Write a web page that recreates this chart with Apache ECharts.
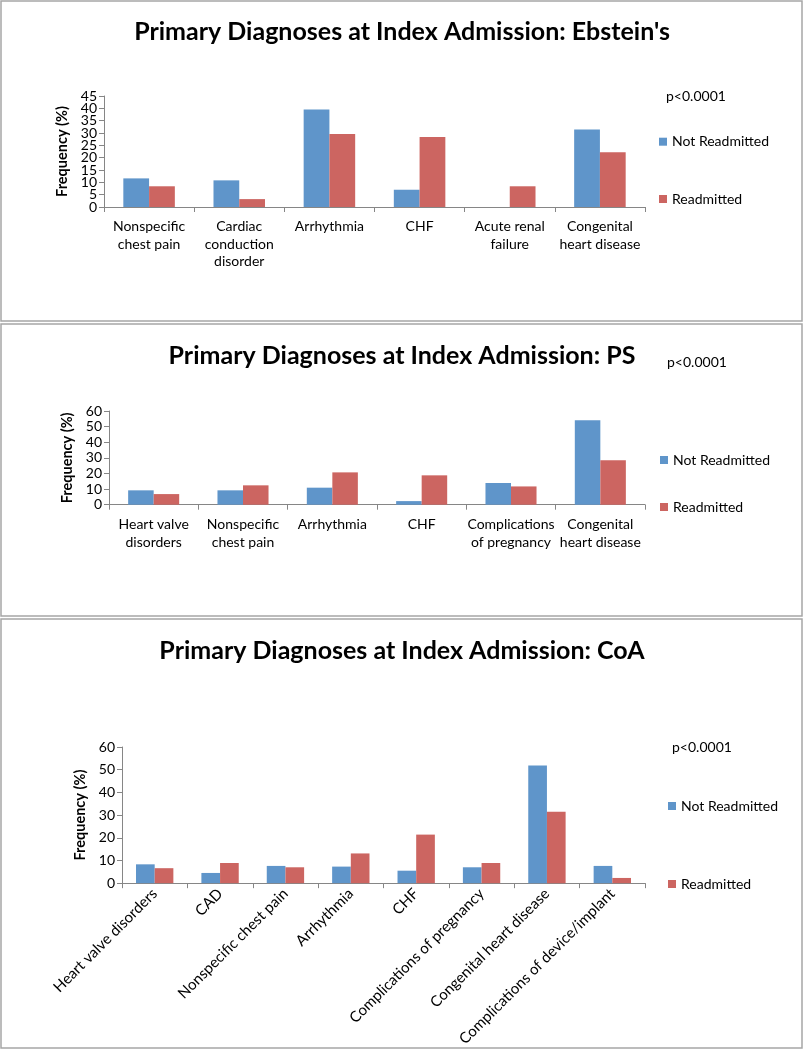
<!DOCTYPE html>
<html><head><meta charset="utf-8">
<script src="https://cdn.jsdelivr.net/npm/echarts@6/dist/echarts.min.js"></script>
<style>html,body{margin:0;padding:0;background:#fff}#c{width:804px;height:1050px}</style>
</head><body><div id="c"></div>
<script>
// ---- data ----
const seriesNames = ['Not Readmitted', 'Readmitted'];
const pValueLabel = 'p<0.0001';
const axisTitle = 'Frequency (%)';

const ebsteinTitle = "Primary Diagnoses at Index Admission: Ebstein's";
const ebsteinCategories = ['Nonspecific\nchest pain', 'Cardiac\nconduction\ndisorder', 'Arrhythmia', 'CHF', 'Acute renal\nfailure', 'Congenital\nheart disease'];
const ebsteinNotReadmitted = [11.6, 10.8, 39.5, 7.0, 0, 31.4];
const ebsteinReadmitted = [8.4, 3.2, 29.6, 28.4, 8.4, 22.2];

const psTitle = 'Primary Diagnoses at Index Admission: PS';
const psCategories = ['Heart valve\ndisorders', 'Nonspecific\nchest pain', 'Arrhythmia', 'CHF', 'Complications\nof pregnancy', 'Congenital\nheart disease'];
const psNotReadmitted = [9.2, 9.2, 10.9, 2.3, 13.9, 54.0];
const psReadmitted = [6.8, 12.4, 20.7, 18.8, 11.7, 28.4];

const coaTitle = 'Primary Diagnoses at Index Admission: CoA';
const coaCategories = ['Heart valve disorders', 'CAD', 'Nonspecific chest pain', 'Arrhythmia', 'CHF', 'Complications of pregnancy', 'Congenital heart disease', 'Complications of device/implant'];
const coaNotReadmitted = [8.3, 4.5, 7.6, 7.3, 5.5, 7.0, 51.8, 7.6];
const coaReadmitted = [6.6, 8.9, 7.0, 13.1, 21.4, 8.9, 31.5, 2.3];

// y-axis scales (max, interval)
const ebsteinAxis = [45, 5];
const psAxis = [60, 10];
const coaAxis = [60, 10];

// ---- layout / style ----
const FONT = 'Lato';
const BLUE = '#5F95CA';
const RED = '#CC6561';
const AXIS_COLOR = '#868686';

const panels = [
  { title: ebsteinTitle, cats: ebsteinCategories, a: ebsteinNotReadmitted, b: ebsteinReadmitted, axis: ebsteinAxis,
    grid: { left: 104, top: 96, width: 541, height: 111 }, titleTop: 19, pLeft: 666, pTop: 89,
    legLeft: 659, legTop: 134.7, legGap: 43.3, nameGap: 33, rotate: 0, labelMargin: 11,
    box: [1, 1, 801, 320] },
  { title: psTitle, cats: psCategories, a: psNotReadmitted, b: psReadmitted, axis: psAxis,
    grid: { left: 109, top: 411, width: 536, height: 93.7 }, titleTop: 343.5, pLeft: 667, pTop: 355,
    legLeft: 660, legTop: 453, legGap: 33, nameGap: 32, rotate: 0, labelMargin: 11.5,
    box: [1, 324, 801, 292] },
  { title: coaTitle, cats: coaCategories, a: coaNotReadmitted, b: coaReadmitted, axis: coaAxis,
    grid: { left: 122, top: 747, width: 523, height: 137.3 }, titleTop: 638.5, pLeft: 672, pTop: 740,
    legLeft: 668, legTop: 799, legGap: 64, nameGap: 32, rotate: 45, labelMargin: 8,
    box: [1, 619, 801, 429] }
];

const option = {
  animation: false,
  backgroundColor: '#fff',
  textStyle: { fontFamily: FONT },
  title: [],
  legend: [],
  grid: [],
  xAxis: [],
  yAxis: [],
  series: [],
  graphic: panels.map(p => ({
    type: 'rect', z: -10, silent: true,
    shape: { x: p.box[0], y: p.box[1], width: p.box[2], height: p.box[3] },
    style: { fill: 'none', stroke: '#A6A6A6', lineWidth: 1.5 }
  }))
};

const yLabelStyle = { fontFamily: FONT, fontSize: 14, color: '#000', margin: 7, hideOverlap: false };

panels.forEach((p, i) => {
  const yMin = 0, yMax = p.axis[0], yInt = p.axis[1];
  option.title.push({
    text: p.title, left: 'center', top: p.titleTop, padding: 0,
    textStyle: { fontFamily: FONT, fontSize: 25, fontWeight: 'bold', color: '#000' }
  });
  option.title.push({
    text: pValueLabel, left: p.pLeft, top: p.pTop, padding: 0,
    textStyle: { fontFamily: FONT, fontSize: 14, fontWeight: 'normal', color: '#000' }
  });
  option.legend.push({
    data: seriesNames, orient: 'vertical', left: p.legLeft, top: p.legTop, padding: 0,
    itemGap: p.legGap, itemWidth: 8, itemHeight: 8, icon: 'rect', selectedMode: false,
    textStyle: { fontFamily: FONT, fontSize: 14, color: '#000' }
  });
  option.grid.push(Object.assign({ containLabel: false }, p.grid));
  option.xAxis.push({
    type: 'category', gridIndex: i, data: p.cats,
    axisLine: { lineStyle: { color: AXIS_COLOR, width: 1 } },
    axisTick: { show: true, length: 5, lineStyle: { color: AXIS_COLOR } },
    axisLabel: {
      interval: 0, rotate: p.rotate, margin: p.labelMargin, hideOverlap: false,
      fontFamily: FONT, fontSize: p.rotate ? 15 : 14, color: '#000', lineHeight: 17.5
    },
    splitLine: { show: false }
  });
  // main value axis: draws line, ticks, name and the min/max labels
  const mainAxisIndex = option.yAxis.length;
  option.yAxis.push({
    type: 'value', gridIndex: i, position: 'left', offset: 0,
    min: yMin, max: yMax, interval: yInt,
    name: axisTitle, nameLocation: 'middle', nameGap: p.nameGap, nameRotate: 90,
    nameTextStyle: { fontFamily: FONT, fontSize: 14.5, fontWeight: 'bold', color: '#000' },
    axisLine: { show: true, lineStyle: { color: AXIS_COLOR, width: 1 } },
    axisTick: { show: true, length: 5, lineStyle: { color: AXIS_COLOR } },
    axisLabel: Object.assign({}, yLabelStyle, {
      showMinLabel: true, showMaxLabel: true,
      formatter: v => (v === yMin || v === yMax) ? String(v) : ''
    }),
    splitLine: { show: false }
  });
  // companion axis with the same scale: draws the inner tick labels
  option.yAxis.push({
    type: 'value', gridIndex: i, position: 'left', offset: 0,
    min: yMin, max: yMax, interval: yInt,
    axisLine: { show: false }, axisTick: { show: false }, splitLine: { show: false },
    axisLabel: Object.assign({}, yLabelStyle, { showMinLabel: false, showMaxLabel: false })
  });
  option.series.push({
    name: seriesNames[0], type: 'bar', xAxisIndex: i, yAxisIndex: mainAxisIndex, data: p.a,
    barGap: '0%', barCategoryGap: '42.86%', itemStyle: { color: BLUE }
  });
  option.series.push({
    name: seriesNames[1], type: 'bar', xAxisIndex: i, yAxisIndex: mainAxisIndex, data: p.b,
    barGap: '0%', barCategoryGap: '42.86%', itemStyle: { color: RED }
  });
});

option.color = [BLUE, RED];
const chart = echarts.init(document.getElementById('c'), null, { renderer: 'canvas' });
chart.setOption(option);
</script>
</body></html>
